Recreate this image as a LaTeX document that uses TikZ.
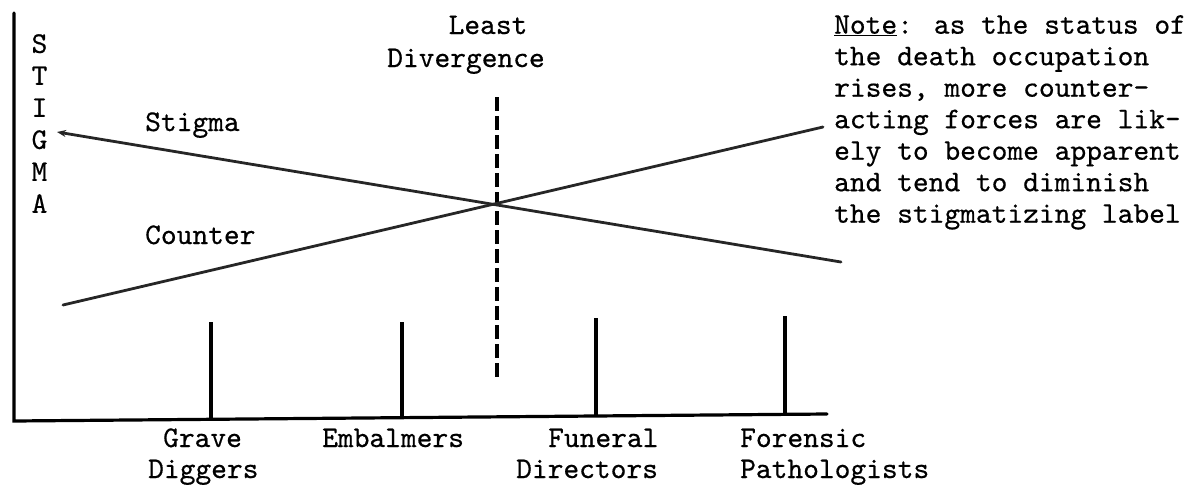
\documentclass[tikz,border=0pt]{standalone}
\usepackage{fontspec}
\newfontfamily\twfont{lmmono10-regular.otf}[FakeBold=0.5]
\usetikzlibrary{arrows.meta}
\begin{document}
\begin{tikzpicture}[x=1pt,y=-1pt,
  tw/.style={font=\fontsize{30}{31.5}\selectfont\twfont, inner sep=0pt},
  axisline/.style={line width=3.2pt, line cap=round},
  barline/.style={line width=3.6pt},
  trendline/.style={line width=2.8pt, draw=black!85, line cap=round},
  divideline/.style={line width=3.2pt, dash pattern=on 14pt off 5pt}]
\useasboundingbox (0,0) rectangle (1187,485);
% axes
\coordinate (ytop) at (14,13);
\coordinate (O) at (14,421);
\coordinate (xend) at (827,414);
\draw[axisline] (ytop) -- (O) -- (xend);
% occupation bars
\coordinate (g0) at (211,419.5); \coordinate (g1) at (211,322);
\coordinate (e0) at (402,418);   \coordinate (e1) at (402,322);
\coordinate (f0) at (596,416);   \coordinate (f1) at (596,318);
\coordinate (p0) at (785,414.5); \coordinate (p1) at (785,316);
\draw[barline] (g0) -- (g1);
\draw[barline] (e0) -- (e1);
\draw[barline] (f0) -- (f1);
\draw[barline] (p0) -- (p1);
% least divergence
\coordinate (d0) at (497,97);
\coordinate (d1) at (497,377);
\draw[divideline] (d0) -- (d1);
% trend lines
\coordinate (s0) at (57,132);
\coordinate (s1) at (841,262);
\coordinate (c0) at (63,305);
\coordinate (c1) at (823,127);
\draw[trendline, {Stealth[length=9pt,width=7pt]}-] (s0) -- (s1);
\draw[trendline] (c0) -- (c1);
% labels
\node[tw, align=center, anchor=north, font=\fontsize{30}{32}\selectfont\twfont] (ylab) at (39.5,34) {S\\T\\I\\G\\M\\A};
\node[tw, anchor=base] (least) at (488,34) {Least};
\node[tw, anchor=base] (diverg) at (466,67) {Divergence};
\node[tw, anchor=base west] (stig) at (145,131) {Stigma};
\node[tw, anchor=base west] (count) at (145,244) {Counter};
\node[tw, anchor=base west] (grave) at (163,447) {Grave};
\node[tw, anchor=base west] (digg) at (148,478) {Diggers};
\node[tw, anchor=base west] (emb) at (322,447) {Embalmers};
\node[tw, anchor=base west] (fun) at (548,447) {Funeral};
\node[tw, anchor=base west] (dir) at (516,478) {Directors};
\node[tw, anchor=base west] (for) at (740,447) {Forensic};
\node[tw, anchor=base west] (path) at (740,478) {Pathologists};
\node[tw, align=left, anchor=north west] (note) at (834,15)
  {\underline{Note}: as the status of\\
   the death occupation\\
   rises, more counter-\\
   acting forces are lik-\\
   ely to become apparent\\
   and tend to diminish\\
   the stigmatizing label};
\end{tikzpicture}
\end{document}
